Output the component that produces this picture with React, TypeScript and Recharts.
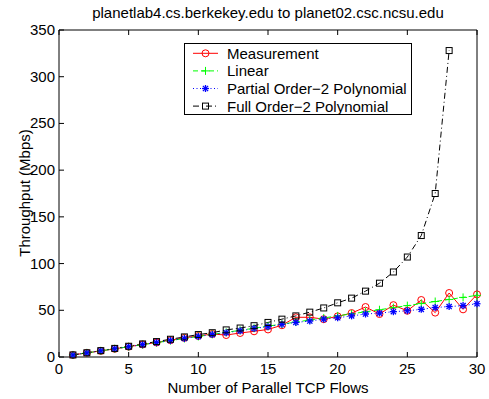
import React from "react";
import { LineChart, Line, XAxis, YAxis, Legend, Label } from "recharts";

// number of parallel TCP flows
const flows = [1, 2, 3, 4, 5, 6, 7, 8, 9, 10, 11, 12, 13, 14, 15, 16, 17, 18, 19, 20, 21, 22, 23, 24, 25, 26, 27, 28, 29, 30];

const measurement = [2.2, 4.4, 6.5, 8.7, 11, 13.4, 15.5, 18, 20.5, 22.5, 24.6, 23.5, 25.7, 27.5, 29.5, 34, 42.5, 42.5, 40.5, 43.5, 47, 53.5, 46, 55.5, 49.5, 61, 47.5, 68.5, 51, 67];
const linear = [2.2, 4.4, 6.6, 8.8, 11, 13.2, 15.4, 17.6, 19.8, 22, 24.2, 26.4, 28.6, 30.8, 33, 35.2, 37.4, 39.6, 41.8, 44, 46.2, 48.4, 50.6, 52.8, 55, 57.2, 59.4, 61.6, 63.8, 66];
const partialPoly = [2.2, 4.4, 6.6, 8.8, 11, 13.2, 15.4, 17.6, 19.8, 22, 24, 26, 28, 30.5, 32.5, 35, 37, 38.5, 40.5, 42, 44, 46, 47, 48.5, 49.5, 51, 53, 54, 55, 57];
const fullPoly = [2.2, 4.5, 6.8, 9.2, 11.5, 14, 16.5, 19, 21.5, 24, 26, 29, 31, 33.5, 37, 40.5, 44, 48, 52.5, 58, 63, 70.5, 79, 91, 107, 130, 175, 328];

const xTicks = [0, 5, 10, 15, 20, 25, 30];
const yTicks = [0, 50, 100, 150, 200, 250, 300, 350];

const title = "planetlab4.cs.berkekey.edu to planet02.csc.ncsu.edu";
const xTitle = "Number of Parallel TCP Flows";
const yTitle = "Throughput (Mbps)";
const seriesNames = ["Measurement", "Linear", "Partial Order\u22122 Polynomial", "Full Order\u22122 Polynomial"];

const data = flows.map((x, i) => ({
  x,
  measurement: measurement[i],
  linear: linear[i],
  partial: partialPoly[i],
  full: i < fullPoly.length ? fullPoly[i] : null,
}));

const FONT = "'Liberation Sans', Arial, Helvetica, sans-serif";
const FS = 15;

const W = 489;
const H = 399;
// axes take 1px each, so plot box is 59..477 x 30..357
const M = { top: 29, right: 11, bottom: 41, left: 58 };

// markers
const ok = (p: any) => p.cx != null && p.cy != null && !isNaN(p.cx) && !isNaN(p.cy);

const circleMark = (cx: number, cy: number) => (
  <circle cx={cx} cy={cy} r={3.5} fill="none" stroke="#ff0000" strokeWidth={1} />
);
const plusMark = (cx: number, cy: number) => (
  <g stroke="#00ff00" strokeWidth={1}>
    <line x1={cx - 4} y1={cy} x2={cx + 4} y2={cy} />
    <line x1={cx} y1={cy - 4} x2={cx} y2={cy + 4} />
  </g>
);
const starMark = (cx: number, cy: number) => (
  <g stroke="#0000ff" strokeWidth={1.3}>
    <line x1={cx - 3.5} y1={cy} x2={cx + 3.5} y2={cy} />
    <line x1={cx} y1={cy - 3.5} x2={cx} y2={cy + 3.5} />
    <line x1={cx - 2.6} y1={cy - 2.6} x2={cx + 2.6} y2={cy + 2.6} />
    <line x1={cx - 2.6} y1={cy + 2.6} x2={cx + 2.6} y2={cy - 2.6} />
  </g>
);
const squareMark = (cx: number, cy: number) => (
  <rect x={cx - 3} y={cy - 3} width={6} height={6} fill="none" stroke="#000" strokeWidth={1} />
);

const dotOf = (fn: (cx: number, cy: number) => React.ReactElement) => (p: any) =>
  ok(p) ? <g key={p.key}>{fn(p.cx, p.cy)}</g> : <g key={p.key} />;

// ticks drawn inside the box, MATLAB style
const BottomTick = ({ x, y, payload }: any) => (
  <g>
    <line x1={x} y1={y} x2={x} y2={y - 5} stroke="#000" />
    <text x={x} y={y + 17} textAnchor="middle" fontSize={FS} fill="#000" fontFamily={FONT}>
      {payload.value}
    </text>
  </g>
);
const LeftTick = ({ x, y, payload }: any) => (
  <g>
    <line x1={x} y1={y} x2={x + 5} y2={y} stroke="#000" />
    <text x={x - 4} y={y + 5} textAnchor="end" fontSize={FS} fill="#000" fontFamily={FONT}>
      {payload.value}
    </text>
  </g>
);
const TopTick = ({ x, y }: any) => <line x1={x} y1={y} x2={x} y2={y + 5} stroke="#000" />;
const RightTick = ({ x, y }: any) => <line x1={x} y1={y} x2={x - 5} y2={y} stroke="#000" />;

const legendRows = [
  { name: seriesNames[0], color: "#ff0000", dash: undefined, mark: circleMark },
  { name: seriesNames[1], color: "#00ff00", dash: "5 3", mark: plusMark },
  { name: seriesNames[2], color: "#0000ff", dash: "1 2.5", mark: starMark },
  { name: seriesNames[3], color: "#000000", dash: "6 3 1 3", mark: squareMark },
];

const LegendBox = () => (
  <svg width={228} height={72} style={{ display: "block", overflow: "visible" }}>
    <rect x={0.5} y={0.5} width={227} height={71} fill="#fff" stroke="#000" />
    {legendRows.map((r, i) => {
      const cy = 10.3 + i * 17.6;
      return (
        <g key={r.name}>
          <line x1={9} y1={cy} x2={34} y2={cy} stroke={r.color} strokeDasharray={r.dash} />
          {r.mark(21.5, cy)}
          <text x={43} y={cy + 5.5} fontSize={FS} fontFamily={FONT} fill="#000">
            {r.name}
          </text>
        </g>
      );
    })}
  </svg>
);

export default function App() {
  return (
    <div style={{ position: "absolute", left: 0, top: 0, width: W, height: H, background: "#fff", fontFamily: FONT }}>
      <LineChart width={W} height={H} data={data} margin={M} style={{ fontFamily: FONT }}>
        <XAxis
          dataKey="x"
          type="number"
          domain={[0, 30]}
          ticks={xTicks}
          interval={0}
          height={1}
          tickSize={0}
          tickMargin={0}
          tickLine={false}
          tick={<BottomTick />}
          axisLine={{ stroke: "#000" }}
        >
          <Label
            content={() => (
              <text x={268} y={393} textAnchor="middle" fontSize={FS} fontFamily={FONT} fill="#000">
                {xTitle}
              </text>
            )}
          />
        </XAxis>
        <XAxis
          xAxisId="top"
          orientation="top"
          dataKey="x"
          type="number"
          domain={[0, 30]}
          ticks={xTicks}
          interval={0}
          height={1}
          tickSize={0}
          tickMargin={0}
          tickLine={false}
          tick={<TopTick />}
          axisLine={{ stroke: "#000" }}
        >
          <Label
            content={() => (
              <text x={268} y={18} textAnchor="middle" fontSize={FS} fontFamily={FONT} fill="#000">
                {title}
              </text>
            )}
          />
        </XAxis>
        <YAxis
          type="number"
          domain={[0, 350]}
          ticks={yTicks}
          interval={0}
          width={1}
          tickSize={0}
          tickMargin={0}
          tickLine={false}
          tick={<LeftTick />}
          axisLine={{ stroke: "#000" }}
        >
          <Label
            content={() => (
              <text
                x={30}
                y={193}
                transform="rotate(-90 30 193)"
                textAnchor="middle"
                fontSize={FS}
                fontFamily={FONT}
                fill="#000"
              >
                {yTitle}
              </text>
            )}
          />
        </YAxis>
        <YAxis
          yAxisId="right"
          orientation="right"
          type="number"
          domain={[0, 350]}
          ticks={yTicks}
          interval={0}
          width={1}
          tickSize={0}
          tickMargin={0}
          tickLine={false}
          tick={<RightTick />}
          axisLine={{ stroke: "#000" }}
        />
        <Legend
          layout="vertical"
          align="center"
          verticalAlign="middle"
          wrapperStyle={{ position: "absolute", left: 184, top: 43, width: 228, height: 72 }}
          content={() => <LegendBox />}
        />
        <Line
          dataKey="measurement"
          type="linear"
          stroke="#ff0000"
          strokeWidth={1}
          dot={dotOf(circleMark)}
          activeDot={false}
          isAnimationActive={false}
        />
        <Line
          dataKey="linear"
          type="linear"
          stroke="#00ff00"
          strokeWidth={1}
          strokeDasharray="5 3"
          dot={dotOf(plusMark)}
          activeDot={false}
          isAnimationActive={false}
        />
        <Line
          dataKey="partial"
          type="linear"
          stroke="#0000ff"
          strokeWidth={1}
          strokeDasharray="1 2.5"
          dot={dotOf(starMark)}
          activeDot={false}
          isAnimationActive={false}
        />
        <Line
          dataKey="full"
          type="linear"
          stroke="#000000"
          strokeWidth={1}
          strokeDasharray="6 3 1 3"
          dot={dotOf(squareMark)}
          activeDot={false}
          isAnimationActive={false}
        />
      </LineChart>
    </div>
  );
}
